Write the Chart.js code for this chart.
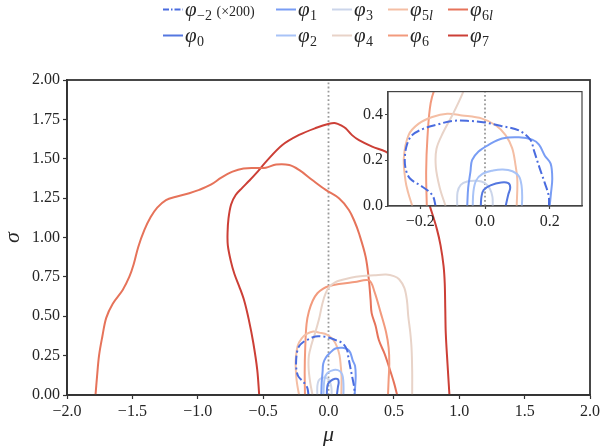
<!DOCTYPE html>
<html>
<head>
<meta charset="utf-8">
<script src="https://cdn.jsdelivr.net/npm/chart.js@4.4.1/dist/chart.umd.min.js"></script>
<style>
  html, body { margin: 0; padding: 0; background: #fff; }
  #wrap { position: relative; width: 603px; height: 448px; }
  #main { position: absolute; left: 0; top: 0; }
  #inset { position: absolute; left: 340px; top: 80px; }
</style>
</head>
<body>
<div id="wrap">
  <canvas id="main" width="603" height="448"></canvas>
  <canvas id="inset" width="255" height="160"></canvas>
</div>
<script>
// series names (subscripts of phi) and their colours
const seriesNames = ['\u22122', '0', '1', '2', '3', '4', '5l', '6', '6l', '7'];
const seriesNote = [' (\u00d7200)', '', '', '', '', '', '', '', '', ''];
const seriesColors = ['#4a6cdf', '#5477e0', '#799df4', '#a8c3f7', '#cbd5ea',
                      '#e8d3c8', '#f4bea4', '#f29a7d', '#e6735a', '#cc3f36'];

// contour lines, [mu, sigma] pairs
const phiM2 = [[-0.153,0],[-0.16,0.04],[-0.175,0.065],[-0.2,0.09],[-0.232,0.12],[-0.245,0.16],
  [-0.248,0.21],[-0.241,0.27],[-0.225,0.31],[-0.19,0.338],[-0.15,0.355],[-0.1,0.372],[-0.05,0.372],
  [0.0,0.365],[0.05,0.35],[0.105,0.33],[0.14,0.29],[0.152,0.24],[0.168,0.17],[0.185,0.1],[0.197,0.045],[0.198,0]];
const phi0 = [[-0.013,0],[-0.011,0.04],[-0.004,0.07],[0.017,0.09],[0.05,0.103],[0.072,0.1],
  [0.078,0.08],[0.072,0.05],[0.064,0]];
const phi1 = [[-0.055,0],[-0.052,0.08],[-0.045,0.15],[-0.04,0.2],[-0.02,0.238],[0.012,0.268],
  [0.053,0.295],[0.105,0.3],[0.146,0.29],[0.167,0.268],[0.185,0.22],[0.203,0.185],[0.208,0.12],
  [0.204,0.055],[0.2,0]];
const phi2 = [[-0.038,0],[-0.036,0.06],[-0.028,0.11],[-0.008,0.14],[0.025,0.155],[0.055,0.16],
  [0.085,0.152],[0.105,0.13],[0.113,0.09],[0.115,0.04],[0.114,0]];
const phi3 = [[-0.086,0],[-0.085,0.06],[-0.075,0.092],[-0.055,0.107],[-0.025,0.11],[0.0,0.1],
  [0.015,0.075],[0.023,0.04],[0.024,0]];
const phi4 = [[-0.122,0],[-0.14,0.08],[-0.152,0.17],[-0.15,0.25],[-0.13,0.32],[-0.1,0.4],
  [-0.07,0.49],[-0.047,0.58],[-0.02,0.65],[0.01,0.69],[0.05,0.715],[0.1,0.73],[0.17,0.745],
  [0.26,0.755],[0.35,0.76],[0.44,0.765],[0.5,0.755],[0.54,0.735],[0.58,0.68],[0.6,0.6],
  [0.61,0.5],[0.625,0.4],[0.635,0.3],[0.64,0.15],[0.64,0]];
const phi5l = [[-0.225,0],[-0.238,0.06],[-0.246,0.111],[-0.251,0.211],[-0.236,0.311],[-0.205,0.36],
  [-0.163,0.389],[-0.117,0.403],[-0.071,0.396],[-0.009,0.382],[0.033,0.353],[0.063,0.311],
  [0.084,0.253],[0.094,0.182],[0.1,0.111],[0.098,0]];
const phi6 = [[-0.18,0],[-0.182,0.15],[-0.178,0.3],[-0.168,0.45],[-0.15,0.53],[-0.12,0.6],
  [-0.085,0.646],[-0.04,0.675],[0.0,0.69],[0.08,0.705],[0.2,0.717],[0.31,0.728],[0.35,0.66],
  [0.4,0.52],[0.44,0.4],[0.46,0.3],[0.465,0.2],[0.46,0.1],[0.455,0]];
const phi6l = [[-1.782,0],[-1.77,0.12],[-1.755,0.25],[-1.73,0.37],[-1.7,0.49],[-1.65,0.58],
  [-1.574,0.667],[-1.523,0.751],[-1.49,0.83],[-1.455,0.94],[-1.408,1.048],[-1.36,1.13],[-1.31,1.19],
  [-1.243,1.238],[-1.166,1.259],[-1.065,1.281],[-0.989,1.302],[-0.9,1.335],[-0.82,1.38],
  [-0.734,1.418],[-0.65,1.438],[-0.55,1.441],[-0.479,1.443],[-0.4,1.463],[-0.3,1.46],
  [-0.225,1.429],[-0.124,1.365],[-0.021,1.302],[0.08,1.249],[0.156,1.175],[0.2,1.1],
  [0.233,1.027],[0.284,0.878],[0.309,0.73],[0.322,0.603],[0.33,0.52],[0.36,0.44],[0.385,0.349],
  [0.43,0.26],[0.462,0.18],[0.5,0.08],[0.525,0]];
const phi7 = [[-0.53,0],[-0.545,0.16],[-0.575,0.33],[-0.61,0.48],[-0.645,0.6],[-0.683,0.69],
  [-0.72,0.77],[-0.747,0.85],[-0.77,0.95],[-0.772,1.03],[-0.765,1.12],[-0.745,1.21],[-0.71,1.27],
  [-0.66,1.315],[-0.607,1.36],[-0.54,1.42],[-0.479,1.48],[-0.353,1.587],[-0.225,1.651],
  [-0.098,1.695],[0.004,1.722],[0.055,1.726],[0.1,1.71],[0.131,1.693],[0.18,1.65],[0.233,1.618],
  [0.334,1.577],[0.437,1.545],[0.55,1.48],[0.66,1.4],[0.74,1.28],[0.79,1.16],[0.83,1.05],
  [0.857,0.95],[0.88,0.82],[0.889,0.71],[0.893,0.55],[0.897,0.39],[0.91,0.2],[0.925,0]];
const zeroLine = [[0,0],[0,2]];

const contours = [phiM2, phi0, phi1, phi2, phi3, phi4, phi5l, phi6, phi6l, phi7];

// tick values
const muTicks = [-2, -1.5, -1, -0.5, 0, 0.5, 1, 1.5, 2];
const sigmaTicks = [0, 0.25, 0.5, 0.75, 1, 1.25, 1.5, 1.75, 2];
const insetMuTicks = [-0.2, 0, 0.2];
const insetSigmaTicks = [0, 0.2, 0.4];

const FONT = "'Liberation Serif', 'DejaVu Serif', serif";
const TEXT = '#262626';

function fmt(d) {
  return v => (v < 0 ? '\u2212' : '') + Math.abs(v).toFixed(d);
}
function toXY(arr) {
  return arr.map(p => ({ x: p[0], y: p[1] }));
}

function makeDatasets() {
  let ds = contours.map((c, i) => ({
    label: '\u03c6' + seriesNames[i],
    data: toXY(c),
    borderColor: seriesColors[i],
    borderWidth: 2,
    borderDash: i === 0 ? [9, 3, 2, 3] : [],
    showLine: true,
    pointRadius: 0,
    tension: 0.35,
    fill: false
  }));
  ds.push({
    label: 'zero',
    data: toXY(zeroLine),
    borderColor: '#9a9a9a',
    borderWidth: 1.8,
    borderDash: [1.8, 2.4],
    showLine: true,
    pointRadius: 0,
    fill: false
  });
  return ds;
}

// full box round the plot area, optional white fill
const framePlugin = {
  id: 'frame',
  beforeDraw(chart, args, opts) {
    if (!opts.fill) return;
    const a = chart.chartArea;
    chart.ctx.save();
    chart.ctx.fillStyle = opts.fill;
    chart.ctx.fillRect(a.left, a.top, a.width, a.height);
    chart.ctx.restore();
  },
  afterDraw(chart, args, opts) {
    const a = chart.chartArea;
    const ctx = chart.ctx;
    ctx.save();
    ctx.strokeStyle = opts.color;
    ctx.lineWidth = opts.width;
    ctx.strokeRect(a.left, a.top, a.width, a.height);
    ctx.restore();
  }
};

// legend in 5 columns x 2 rows, filled column by column
const legendPlugin = {
  id: 'phiLegend',
  afterDraw(chart) {
    const ctx = chart.ctx;
    const colX = [163, 276, 332, 388, 448];
    const rowY = [16, 42];
    chart.data.datasets.forEach((ds, i) => {
      if (i >= seriesNames.length) return;
      const x = colX[Math.floor(i / 2)];
      const y = rowY[i % 2];
      ctx.save();
      ctx.strokeStyle = ds.borderColor;
      ctx.lineWidth = 2;
      ctx.setLineDash(i === 0 ? [6, 2, 1.5, 2] : []);
      ctx.beginPath();
      ctx.moveTo(x, y - 6.5);
      ctx.lineTo(x + 20, y - 6.5);
      ctx.stroke();
      ctx.setLineDash([]);
      ctx.fillStyle = TEXT;
      ctx.textAlign = 'left';
      ctx.textBaseline = 'alphabetic';
      let tx = x + 22;
      ctx.font = 'italic 21px ' + FONT;
      ctx.fillText('\u03c6', tx, y);
      tx += ctx.measureText('\u03c6').width + 0.5;
      for (const ch of seriesNames[i]) {
        ctx.font = (/[a-z]/.test(ch) ? 'italic ' : '') + '14px ' + FONT;
        ctx.fillText(ch, tx, y + 4);
        tx += ctx.measureText(ch).width;
      }
      if (seriesNote[i]) {
        ctx.font = '14px ' + FONT;
        ctx.fillText(seriesNote[i], tx + 1, y);
      }
      ctx.restore();
    });
  }
};

function axis(min, max, tickVals, decimals, size, opts) {
  return {
    type: 'linear',
    min: min,
    max: max,
    afterBuildTicks: s => { s.ticks = tickVals.map(v => ({ value: v })); },
    afterFit: opts.afterFit,
    ticks: {
      callback: fmt(decimals),
      font: { family: FONT, size: size },
      color: TEXT,
      padding: opts.pad,
      autoSkip: false,
      maxRotation: 0
    },
    grid: {
      display: true,
      drawOnChartArea: false,
      drawTicks: true,
      tickLength: opts.tickLength,
      tickColor: opts.border,
      tickWidth: 1.2
    },
    border: { display: true, color: opts.border, width: opts.borderWidth },
    title: opts.title
  };
}

// main chart
new Chart(document.getElementById('main').getContext('2d'), {
  type: 'scatter',
  data: { datasets: makeDatasets() },
  options: {
    responsive: false,
    animation: false,
    layout: { padding: { top: 80, right: 12, left: 0, bottom: 0 } },
    plugins: { legend: { display: false }, tooltip: { enabled: false },
               frame: { color: '#333', width: 1.8 } },
    scales: {
      x: axis(-2, 2, muTicks, 1, 16, {
        pad: 3, tickLength: 4, border: '#333', borderWidth: 1.8,
        afterFit: s => { s.height = 53; },
        title: { display: true, text: '\u03bc', color: TEXT,
                 font: { family: FONT, size: 22, style: 'italic' }, padding: { top: 0, bottom: 0 } }
      }),
      y: axis(0, 2, sigmaTicks, 2, 16, {
        pad: 3, tickLength: 4, border: '#333', borderWidth: 1.8,
        afterFit: s => { s.width = 67; },
        title: { display: true, text: '\u03c3', color: TEXT,
                 font: { family: FONT, size: 22, style: 'italic' }, padding: { top: 0, bottom: 0 } }
      })
    }
  },
  plugins: [framePlugin, legendPlugin]
});

// inset chart, zoom on the small contours
new Chart(document.getElementById('inset').getContext('2d'), {
  type: 'scatter',
  data: { datasets: makeDatasets() },
  options: {
    responsive: false,
    animation: false,
    layout: { padding: { top: 9, right: 13, left: 0, bottom: 0 } },
    plugins: { legend: { display: false }, tooltip: { enabled: false },
               frame: { color: '#444', width: 1.2, fill: '#ffffff' } },
    scales: {
      x: axis(-0.3, 0.3, insetMuTicks, 1, 16, {
        pad: 3, tickLength: 3, border: '#444', borderWidth: 1.2,
        afterFit: s => { s.height = 34; },
        title: { display: false }
      }),
      y: axis(0, 0.5, insetSigmaTicks, 1, 16, {
        pad: 2, tickLength: 3, border: '#444', borderWidth: 1.2,
        afterFit: s => { s.width = 48; },
        title: { display: false }
      })
    }
  },
  plugins: [framePlugin]
});
</script>
</body>
</html>
